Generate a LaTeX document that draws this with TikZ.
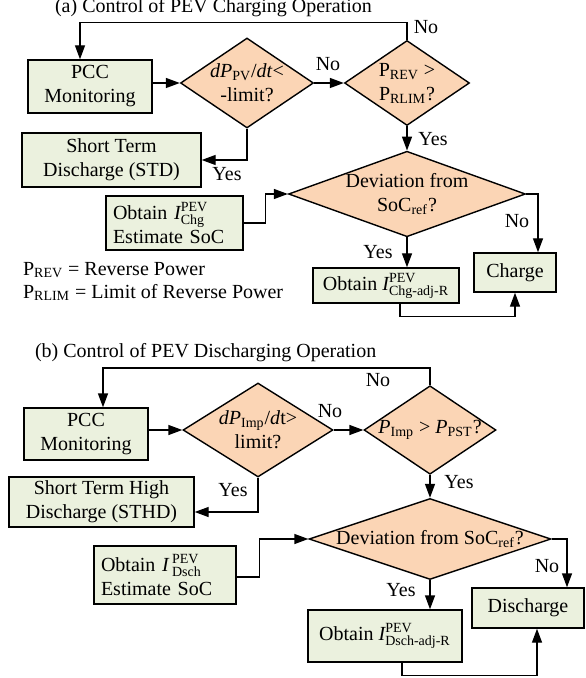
\documentclass[tikz,border=0pt]{standalone}
\usepackage{amsmath}
\usepackage{fontspec}
\setmainfont{Liberation Serif}
\usetikzlibrary{arrows.meta,shapes.geometric,calc}
\definecolor{boxgreen}{HTML}{EBF1DE}
\definecolor{decpeach}{HTML}{FBD5B5}

\begin{document}
\begin{tikzpicture}[x=0.5pt, y=-0.5pt,
  box/.style={draw=black, line width=0.7pt, fill=boxgreen, align=center, inner sep=0pt},
  dec/.style={shape=diamond, draw=black, line width=0.7pt, fill=decpeach, align=center, inner sep=0pt},
  arr/.style={-{Triangle[length=7pt,width=5pt]}, line width=0.7pt},
  ln/.style={line width=0.7pt}]
\useasboundingbox (0,0) rectangle (585,678);
% (a) charging
\node[anchor=base west] (ttla) at (48,13) {(a) Control of PEV Charging Operation};
\node[box, minimum width=62pt, minimum height=26.5pt] (PCCa) at (90,86.5) {PCC\\Monitoring};
\node[dec, aspect=1.48, minimum width=66.5pt, minimum height=45pt] (dPa) at (247,83) {\textit{dP}\textsubscript{PV}/\textit{dt}<\\-limit?};
\node[dec, aspect=1.47, minimum width=62.5pt, minimum height=42.5pt] (Preva) at (407,83) {P\textsubscript{REV} >\\P\textsubscript{RLIM}?};
\node[box, minimum width=89.5pt, minimum height=27pt] (STDa) at (111.5,160) {Short Term\\Discharge (STD)};
\node[box, align=left, text width=61.5pt, inner xsep=3.5pt, minimum height=27pt] (ObtChg) at (174.5,223) {Obtain $\textit{I}^{\text{PEV}}_{\text{Chg}}$\\Estimate SoC};
\node[dec, aspect=2.77, minimum width=113.5pt, minimum height=41pt] (Deva) at (407,194) {Deviation from\\SoC\textsubscript{ref}?};
\node[box, minimum width=73pt, minimum height=17.5pt] (ChgAdj) at (386,285.5) {Obtain $\textit{I}^{\text{PEV}}_{\text{Chg-adj-R}}$};
\node[box, minimum width=41pt, minimum height=19.5pt] (Charge) at (515,272.5) {Charge};
\node[anchor=base west] (lgd1) at (16,275) {P\textsubscript{REV} = Reverse Power};
\node[anchor=base west] (lgd2) at (16,298) {P\textsubscript{RLIM} = Limit of Reverse Power};
\coordinate (topa) at (80,22.7);
\draw[arr] (Preva.north) |- (topa) -- (topa |- PCCa.north);
\draw[arr] (PCCa.east |- dPa.west) -- (dPa.west);
\draw[arr] (dPa.east) -- (Preva.west);
\draw[arr] (dPa.south) |- (STDa.east);
\draw[arr] (Preva.south) -- (Deva.north);
\draw[arr] (ObtChg.east) -- ++(22,0) |- (Deva.west);
\draw[arr] (Deva.east) -| ($(Charge.north)+(23,0)$);
\draw[arr] (Deva.south) -- (Deva.south |- ChgAdj.north);
\draw[arr] ($(ChgAdj.south)+(14,0)$) -- ++(0,13) -| (Charge.south);
\node (noa1) at (426,27) {No};
\node (noa2) at (328,64) {No};
\node (yesa1) at (433,139) {Yes};
\node (yesa2) at (227,174) {Yes};
\node (noa3) at (517,221) {No};
\node (yesa3) at (378,252) {Yes};
% (b) discharging
\node[anchor=base west] (ttlb) at (28,357) {(b) Control of PEV Discharging Operation};
\node[box, minimum width=62pt, minimum height=26pt] (PCCb) at (86,434) {PCC\\Monitoring};
\node[dec, aspect=1.6, minimum width=75pt, minimum height=47pt] (dPb) at (258,430) {\textit{dP}\textsubscript{Imp}/\textit{d}t>\\limit?};
\node[dec, aspect=1.49, minimum width=64pt, minimum height=43pt] (Pimp) at (430,430) {\textit{P}\textsubscript{Imp} > \textit{P}\textsubscript{PST}?};
\node[box, minimum width=92.5pt, minimum height=25pt] (STHD) at (101.5,502) {Short Term High\\Discharge (STHD)};
\node[box, align=left, text width=64pt, inner xsep=3.5pt, minimum height=29pt] (ObtDsch) at (165,575) {Obtain $\textit{I}\,{}^{\text{PEV}}_{\text{Dsch}}$\\Estimate SoC};
\node[dec, aspect=2.99, minimum width=121pt, minimum height=40.5pt] (Devb) at (430,539) {Deviation from SoC\textsubscript{ref}?};
\node[box, minimum width=77pt, minimum height=26pt] (DschAdj) at (385,636) {Obtain $\textit{I}^{\text{PEV}}_{\text{Dsch-adj-R}}$};
\node[box, minimum width=56pt, minimum height=20pt] (Dsch) at (528,608) {Discharge};
\coordinate (topb) at (103,368);
\draw[arr] (Pimp.north) |- (topb) -- (topb |- PCCb.north);
\draw[arr] (PCCb.east |- dPb.west) -- (dPb.west);
\draw[arr] (dPb.east) -- (Pimp.west);
\draw[arr] (dPb.south) |- ($(STHD.east)+(0,10)$);
\draw[arr] (Pimp.south) -- (Devb.north);
\draw[arr] ($(ObtDsch.east)+(0,2)$) -- ++(23,0) |- (Devb.west);
\draw[arr] (Devb.east) -| ($(Dsch.north)+(39,0)$);
\draw[arr] (Devb.south) -- (Devb.south |- DschAdj.north);
\draw[arr] ($(DschAdj.south)+(17,0)$) -- ++(0,13) -| ($(Dsch.south)+(9,0)$);
\node (nob1) at (378,380) {No};
\node (nob2) at (330,411) {No};
\node (yesb1) at (459,482) {Yes};
\node (yesb2) at (233,490) {Yes};
\node (nob3) at (547,566) {No};
\node (yesb3) at (401,590) {Yes};
\end{tikzpicture}
\end{document}
